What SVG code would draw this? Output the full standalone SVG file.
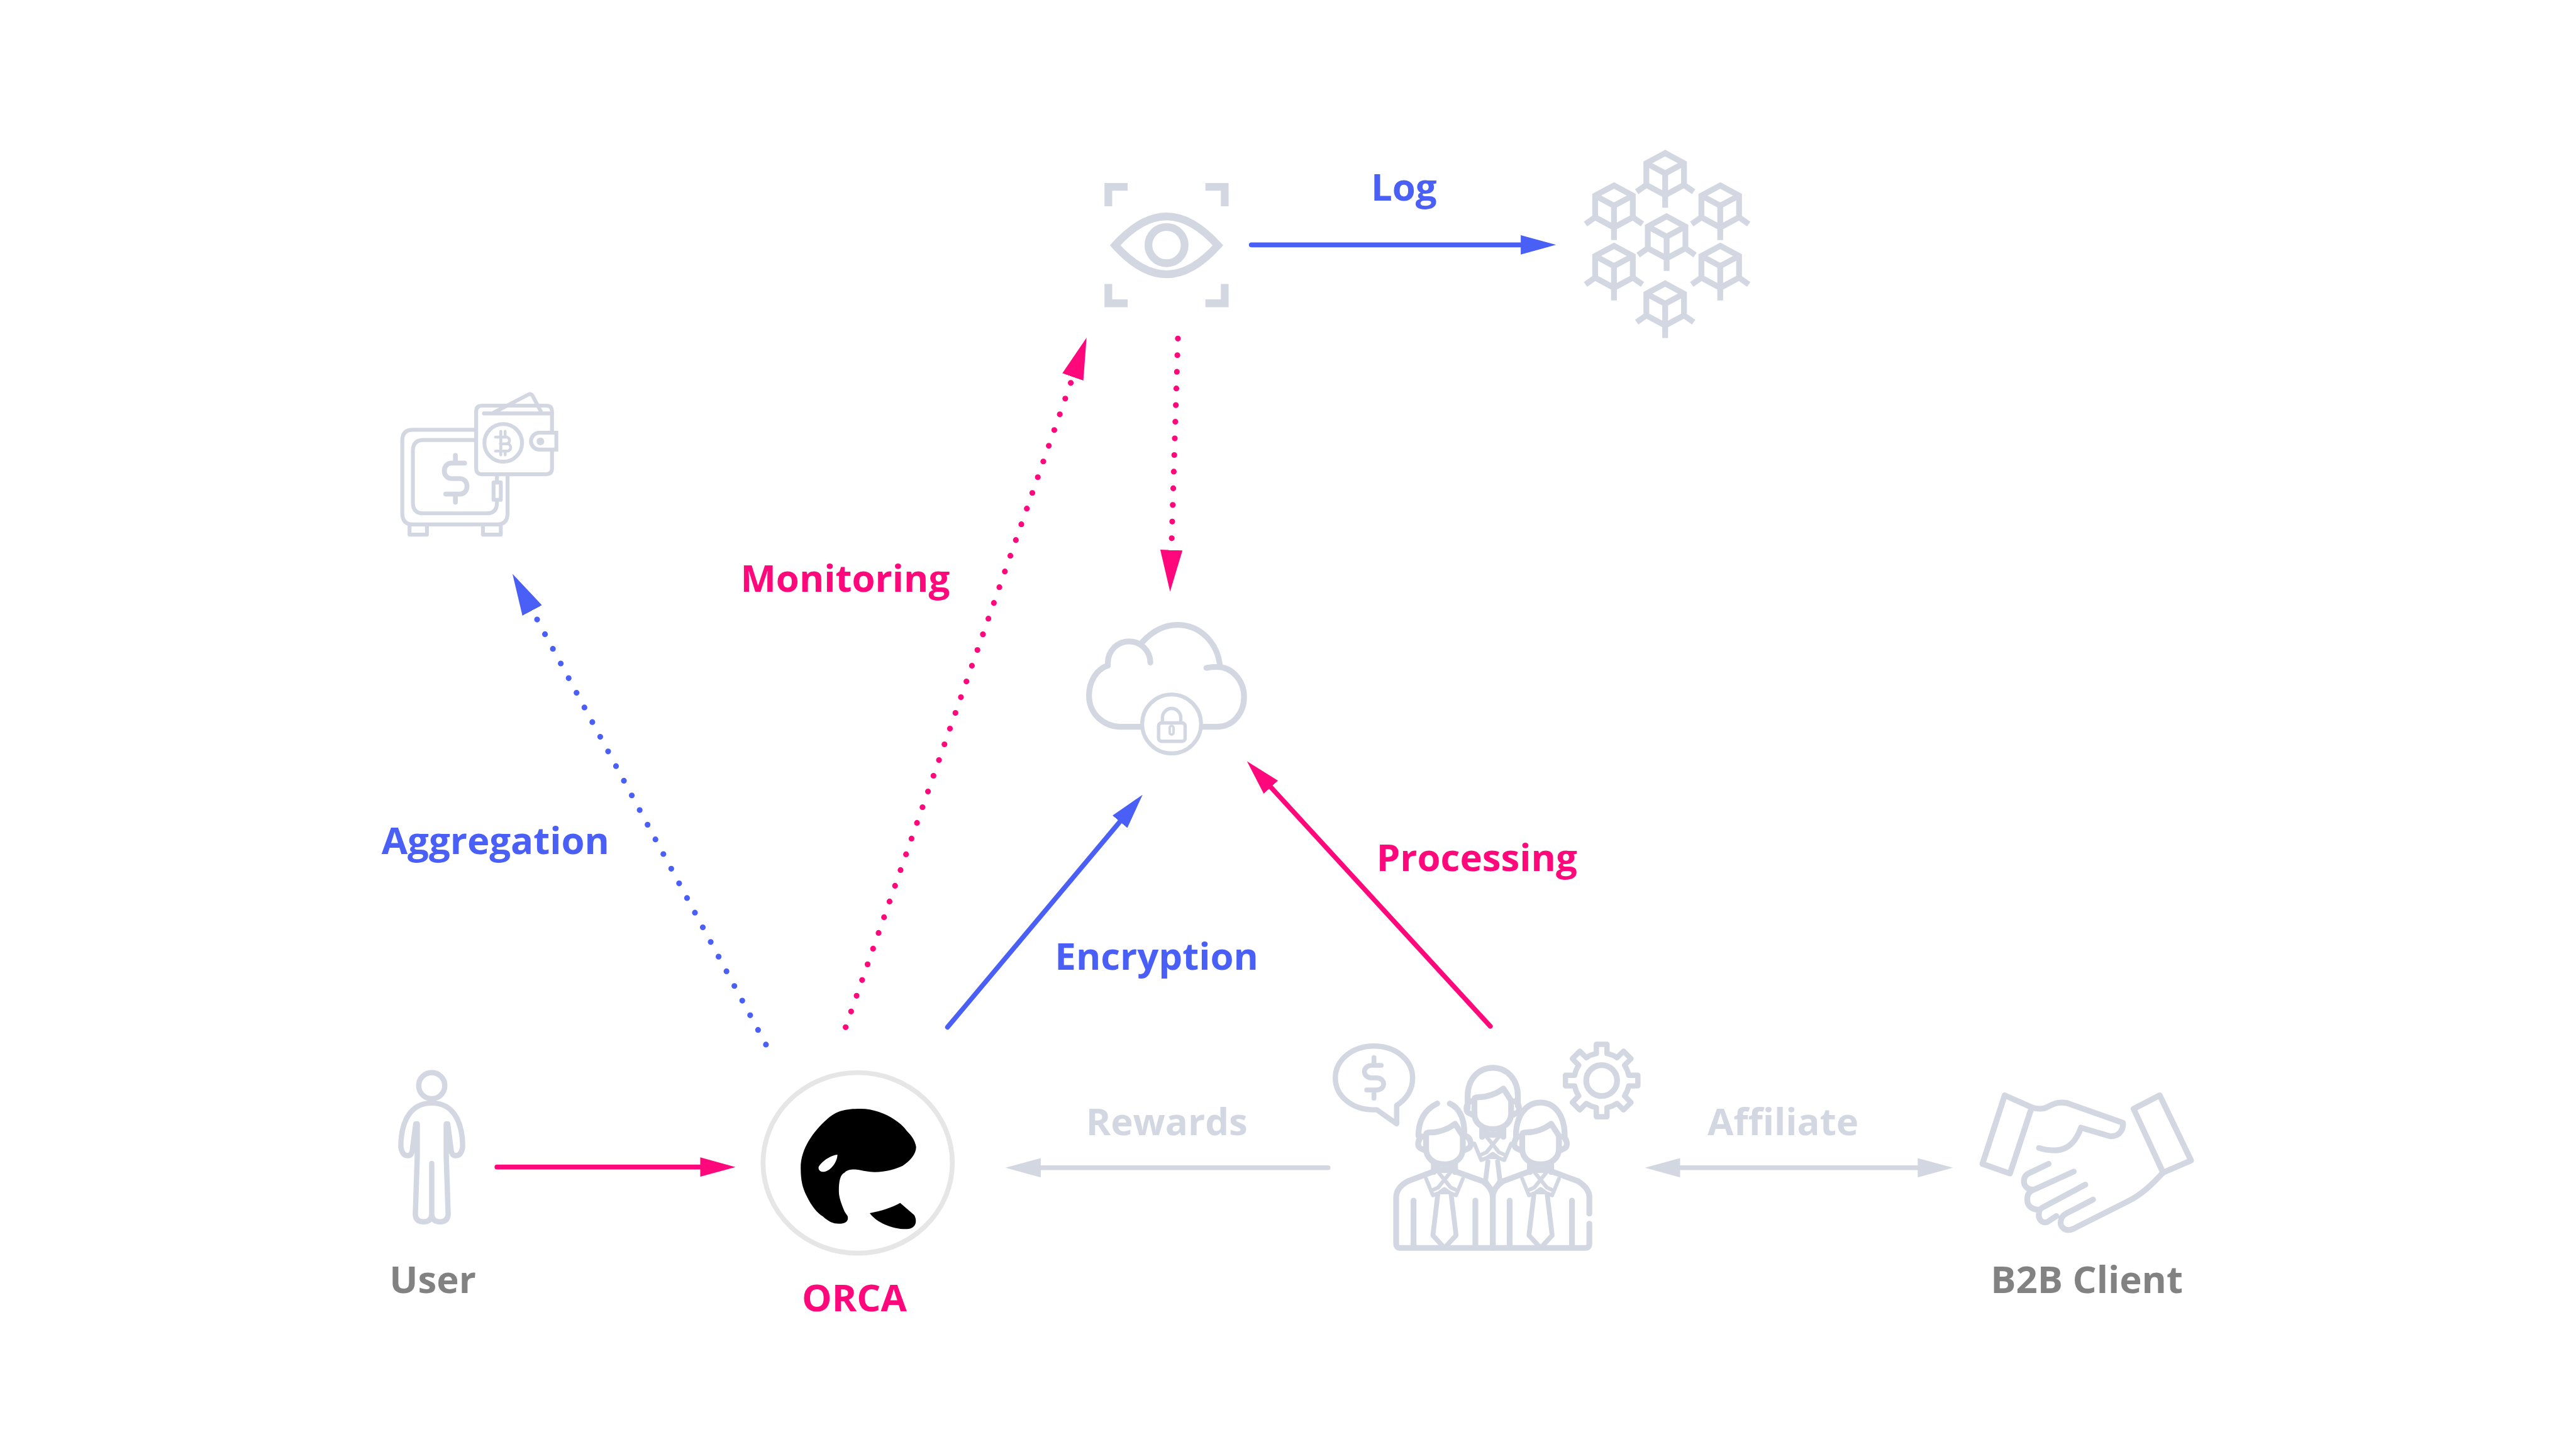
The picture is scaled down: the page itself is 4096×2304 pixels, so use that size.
<svg xmlns="http://www.w3.org/2000/svg" width="4096" height="2304" viewBox="0 0 4096 2304">
<style>
.i{fill:none;stroke:#d3d7e2;stroke-linecap:round;stroke-linejoin:round}
.w12{stroke-width:12}.w11{stroke-width:11}.w10{stroke-width:10}.w8{stroke-width:8}
.b{stroke-linecap:butt;stroke-linejoin:miter}
text{font-family:"Open Sans","Noto Sans","Liberation Sans",sans-serif;font-weight:700;font-size:78px;text-anchor:middle}
.tg{fill:#828282}.tp{fill:#ff087c}.tb{fill:#4a5ff5}.tl{fill:#d3d7e2}
.c{fill:none;stroke-linecap:round;stroke-width:10}
.dot{stroke-width:12;stroke-dasharray:0 34.47}
.p{stroke:#ff087c}.bl{stroke:#4a5ff5}.g{stroke:#d3d7e2}
</style>
<defs>
<marker id="mp" markerUnits="userSpaceOnUse" markerWidth="74" markerHeight="40" refX="0" refY="20" orient="auto"><path d="M0 0L73 20L0 40Z" fill="#ff087c"/></marker>
<marker id="mb" markerUnits="userSpaceOnUse" markerWidth="74" markerHeight="40" refX="0" refY="20" orient="auto"><path d="M0 0L73 20L0 40Z" fill="#4a5ff5"/></marker>
<marker id="mg" markerUnits="userSpaceOnUse" markerWidth="74" markerHeight="40" refX="0" refY="20" orient="auto-start-reverse"><path d="M0 0L73 20L0 40Z" fill="#d3d7e2"/></marker>
<marker id="dp" markerUnits="userSpaceOnUse" markerWidth="87" markerHeight="46" refX="0" refY="23" orient="auto"><path d="M0 0L86 23L0 46Z" fill="#ff087c"/></marker>
<marker id="db" markerUnits="userSpaceOnUse" markerWidth="87" markerHeight="46" refX="0" refY="23" orient="auto"><path d="M0 0L86 23L0 46Z" fill="#4a5ff5"/></marker>
<g id="cube" class="i w12 b" style="stroke-linejoin:miter">
<path d="M0 0L39 21V66L0 87L-39 66V21ZM-39 21L0 42L39 21M0 42V113M-39 66L-59 80M39 66L59 80"/>
</g>
<g id="face" class="i w12">
<path d="M-38 2379V2349Q-38 2345-30 2345C-12 2345 8 2338 22 2327L38 2352V2379C38 2398 22 2411 0 2411C-22 2411-38 2398-38 2379Z"/>
<path d="M-46 2353C-55 2358-57 2372-51 2377L-43 2381M46 2353C55 2358 57 2372 51 2377L43 2381"/>
<path d="M-22 2408V2427M22 2408V2427M-16 2420Q0 2426 16 2420"/>
<path class="w8" d="M-16 2423L13 2459L22 2463M16 2423L-13 2459L-22 2463M-38 2441L-24 2475L-13 2471M38 2441L24 2475L13 2471M-10 2469L0 2462L10 2469Z"/>
</g>
<path id="tie" class="i w10" d="M-14 2475L-24 2558L0 2584L24 2558L14 2475"/>
<path id="gear" d="M-11 -56V-75H11V-56A57 57 0 0 1 31.800 -47.400L45.300 -60.800L60.800 -45.300L47.400 -31.800A57 57 0 0 1 56 -11H75V11H56A57 57 0 0 1 47.400 31.800L60.800 45.300L45.300 60.800L31.800 47.400A57 57 0 0 1 11 56V75H-11V56A57 57 0 0 1 -31.800 47.400L-45.300 60.800L-60.800 45.300L-47.400 31.800A57 57 0 0 1 -56 11H-75V-11H-56A57 57 0 0 1 -47.400 -31.800L-60.800 -45.300L-45.300 -60.800L-31.800 -47.400A57 57 0 0 1 -11 -56Z"/>
</defs>
<rect width="4096" height="2304" fill="#fff"/>
<g transform="scale(0.7679)">
<g id="connectors">
<path class="c p" d="M1029 2416.500H1450" marker-end="url(#mp)"/>
<path class="c bl" d="M2591 507H3149" marker-end="url(#mb)"/>
<path class="c bl" d="M1962 2127L2319 1701.500" marker-end="url(#mb)"/>
<path class="c p" d="M3086 2125L2631.500 1630" marker-end="url(#mp)"/>
<path class="c g" d="M2750 2418H2155" marker-end="url(#mg)"/>
<path class="c g" d="M3479 2418H3971" marker-start="url(#mg)" marker-end="url(#mg)"/>
<path class="c dot bl" d="M1586 2163L1102 1264" marker-end="url(#db)"/>
<path class="c dot p" d="M1751 2127L2221.500 780.500" marker-end="url(#dp)"/>
<path class="c dot p" d="M2439 701L2425.500 1139" marker-end="url(#dp)"/>
</g>
<g id="user">
<ellipse class="i w11" cx="894" cy="2248" rx="27" ry="27"/>
<path class="i w11" d="M894 2409V2515Q893 2530 877 2530Q861 2530 860 2515L864 2394V2327M861 2327L854 2380Q853 2393 844 2393Q833 2393 830 2375C830 2330 845 2284 894 2284C943 2284 958 2330 958 2375Q955 2393 944 2393Q935 2393 934 2380L927 2327M924 2327V2394L928 2515Q927 2530 911 2530Q895 2530 894 2515"/>
<text class="tg" x="896" y="2677">User</text>
</g>
<g id="orca">
<ellipse cx="1776" cy="2408" rx="196" ry="187" fill="#fff" stroke="#e6e6e6" stroke-width="10"/>
<path fill-rule="evenodd" d="M1782 2296C1750 2296 1732 2300 1712 2318C1685 2342 1658 2378 1658 2418C1658 2445 1662 2460 1670 2476C1680 2497 1692 2512 1704 2519C1716 2530 1725 2534 1737 2534C1752 2534 1758 2527 1755 2518L1749 2509C1741 2490 1737 2478 1737 2466C1737 2445 1740 2432 1749 2428C1755 2422 1764 2421 1774 2422C1788 2424 1798 2427 1811 2427C1835 2427 1856 2420 1869 2414C1884 2404 1897 2390 1897 2375C1895 2362 1888 2352 1878 2342C1864 2322 1825 2296 1782 2296ZM1734 2391C1720 2392 1700 2406 1695 2417C1694 2424 1702 2428 1708 2426C1720 2424 1734 2406 1734 2391Z"/>
<path d="M1801 2512C1825 2508 1848 2500 1864 2491L1893 2516C1899 2526 1899 2544 1878 2545C1850 2546 1815 2532 1801 2512Z"/>
<text class="tp" x="1769" y="2715">ORCA</text>
</g>
<g id="team">
<use href="#gear" class="i w11" transform="translate(3316.500 2237.500)"/>
<circle class="i w12" cx="3316.500" cy="2237.500" r="32"/>
<path class="i w11" d="M2892 2327V2289C2913 2275 2925 2255 2925 2232C2925 2195 2890 2166 2845 2166C2800 2166 2765 2195 2765 2232C2765 2270 2800 2298 2845 2298H2851Z"/>
<path class="i w10" d="M2845 2190V2206M2860 2206H2841C2820 2206 2820 2232 2841 2232H2850C2870 2232 2870 2257 2850 2257H2830M2845 2257V2274"/>
<g id="back" transform="translate(3091 0)">
<path class="i w12" d="M-52 2295V2270C-52 2235-30 2211 0 2211C30 2211 52 2235 52 2270V2290"/>
<use href="#face" transform="translate(0 -73)"/>
<path class="i w10" d="M-10 2405L-15 2445L0 2470L15 2445L10 2405"/>
</g>
<g id="left" transform="translate(2991 0)">
<path class="i w12" d="M-15 2285C-40 2297-54 2320-54 2352M11 2285C30 2293 41 2315 41 2345"/>
<use href="#face"/><use href="#tie"/>
<path class="i w12" d="M-26 2427L-76 2446C-92 2455-100 2465-100 2479V2575Q-100 2584-92 2584H100M26 2427L80 2446C92 2455 100 2465 100 2479V2584M-64 2486V2584M64 2486V2584"/>
</g>
<g id="right" transform="translate(3190 0)">
<path class="i w12" d="M-51 2352C-51 2310-30 2283 0 2283C30 2283 50 2310 50 2352"/>
<use href="#face"/><use href="#tie"/>
<path class="i w12" d="M-27 2427L-78 2446C-92 2455-99 2465-99 2479V2584M27 2427L78 2446C92 2455 101 2465 101 2479V2513M101 2534V2575Q101 2584 93 2584H-99M-64 2486V2584M65 2486V2584"/>
</g>
</g>
<g id="client">
<path class="i w12" d="M4151 2268L4105 2410L4162 2430L4207 2293ZM4472 2268L4418 2296L4479 2428L4537 2403Z"/>
<path class="i w12" d="M4207 2293C4220 2297 4231 2297 4240 2292C4255 2284 4265 2281 4280 2284L4396 2325C4397 2335 4392 2353 4370 2353L4309 2335C4300 2360 4285 2382 4254 2382C4240 2382 4230 2380 4222 2377"/>
<path class="i w12" d="M4479 2428C4460 2448 4438 2472 4405 2488L4292 2545C4275 2552 4265 2538 4267 2530C4268 2520 4272 2516 4280 2512L4334 2484M4258 2518L4240 2530C4228 2534 4220 2524 4222 2513C4222 2506 4226 2502 4230 2500L4318 2453M4224 2505C4210 2506 4198 2498 4198 2486C4197 2476 4200 2470 4206 2466L4294 2426M4209 2463C4198 2464 4190 2454 4191 2445C4191 2437 4196 2431 4204 2428L4242 2410"/>
<text class="tg" x="4321" y="2677">B2B Client</text>
</g>
<g id="eye">
<path class="i b" style="stroke-width:16" d="M2295 427V387H2335M2496 387H2536V427M2295 588V628H2335M2496 628H2536V588"/>
<path class="i b" style="stroke-width:16" d="M2309 508C2345 468 2380 448 2415.500 448C2451 448 2486 468 2522 508C2486 548 2451 568 2415.500 568C2380 568 2345 548 2309 508Z"/>
<circle class="i" style="stroke-width:16" cx="2415.500" cy="507.500" r="37.500"/>
</g>
<g id="blockchain">
<use href="#cube" x="3448" y="317"/><use href="#cube" x="3342" y="384"/><use href="#cube" x="3562" y="384"/><use href="#cube" x="3451" y="448"/><use href="#cube" x="3342" y="509"/><use href="#cube" x="3562" y="509"/><use href="#cube" x="3448" y="587"/>
</g>
<g id="wallet">
<path class="i w8" d="M982 890H855Q833 890 833 912V1063Q833 1086 855 1086H1029Q1051 1086 1051 1063V986M982 911H877Q855 911 855 933V1041Q855 1063 877 1063H1007Q1029 1063 1029 1041V1036M1029 986V999M848 1087V1107H884V1087M1000 1087V1107H1037V1087"/>
<rect class="i w8" x="1022" y="999" width="15" height="36"/>
<path class="i w10" d="M943 943V957M962 959H935C915 959 915 991 935 991H952C972 991 972 1023 952 1023H923M943 1023V1040"/>
<path class="i w8" d="M1002 856H1143M1023 854L1094 817Q1100 814 1103 820L1122 856"/>
<path d="M998 840H1131Q1143 840 1143 852V970Q1143 982 1131 982H998Q986 982 986 970V852Q986 840 998 840Z" class="i w8"/>
<circle class="i w8" cx="1042" cy="917" r="39"/>
<path class="i" style="stroke-width:6" d="M1026 905H1048A7 7 0 0 1 1048 919H1036M1036 919H1050A7.500 7.500 0 0 1 1050 934H1026M1037 905V934M1037 893V903M1046 893V903M1037 936V942M1046 936V942"/>
<path d="M1152 896H1117A17.500 17.500 0 0 0 1117 931H1152Z" fill="#fff" stroke="#d3d7e2" stroke-width="8"/>
<circle cx="1119" cy="914" r="8" fill="#d3d7e2"/>
</g>
<g id="cloud">
<path class="i w12" d="M2382 1372A44 44 0 0 0 2294 1372V1378C2270 1386 2255 1412 2255 1440C2255 1478 2285 1505 2322 1505H2363M2365 1330C2385 1308 2410 1294 2438 1294C2485 1294 2520 1330 2526 1377M2498 1383Q2508 1381 2520 1381C2552 1381 2576 1410 2576 1443C2576 1478 2552 1505 2520 1505H2490"/>
<circle class="i w8" cx="2426" cy="1499" r="61"/>
<rect class="i" style="stroke-width:7" x="2399" y="1497" width="55" height="38" rx="6"/>
<path class="i" style="stroke-width:7" d="M2407 1494V1486A19 19 0 0 1 2445 1486V1494"/>
<rect class="i" style="stroke-width:5" x="2422" y="1503" width="8" height="18" rx="4"/>
</g>
<g id="labels">
<text class="tb" x="1026" y="1769">Aggregation</text>
<text class="tp" x="1750" y="1225">Monitoring</text>
<text class="tb" x="2907" y="415">Log</text>
<text class="tb" x="2395" y="2008">Encryption</text>
<text class="tp" x="3058" y="1804">Processing</text>
<text class="tl" x="2416" y="2351">Rewards</text>
<text class="tl" x="3692" y="2351">Affiliate</text>
</g>
</g>
</svg>
